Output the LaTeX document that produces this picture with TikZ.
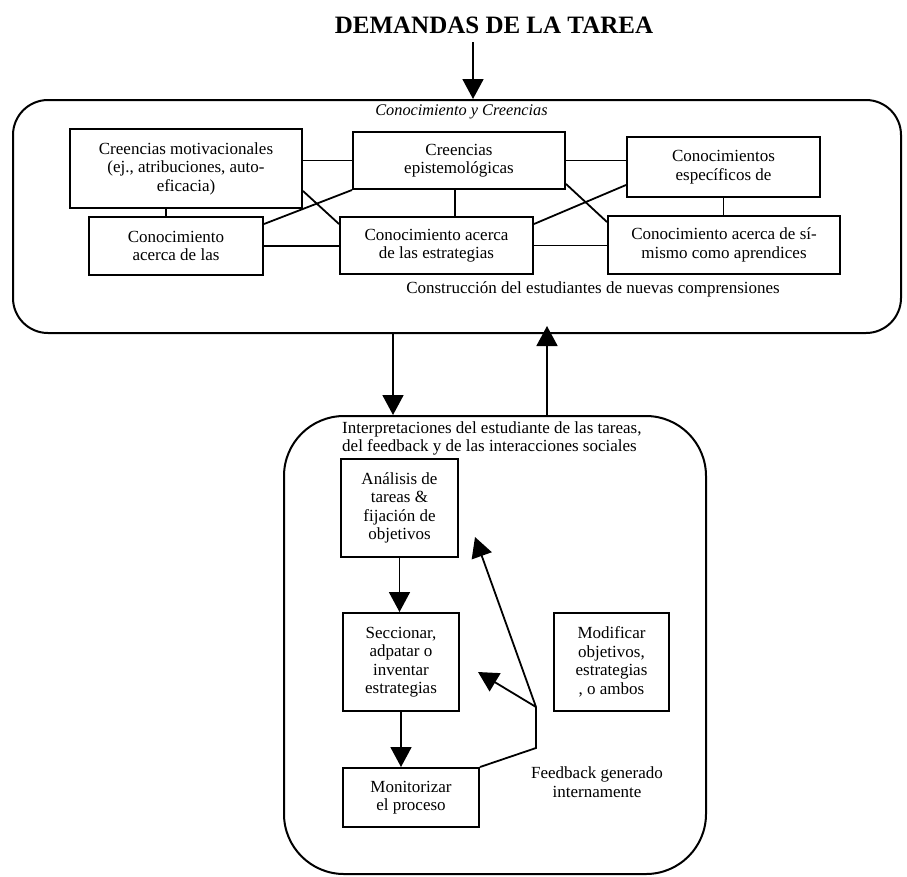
\documentclass[tikz,border=0pt]{standalone}
\usepackage{fontspec}
\setmainfont{Liberation Serif}
\usetikzlibrary{arrows.meta}

\begin{document}
\begin{tikzpicture}[x=1pt, y=-1pt,
	marco/.style={draw, line width=2pt, rounded corners=#1},
	caja/.style={draw, line width=2pt, align=center, inner sep=0pt, font=\fontsize{17}{18.5}\selectfont},
	texto/.style={inner sep=0pt, font=\fontsize{17}{18.5}\selectfont},
	enlace/.style={line width=1.8pt},
	flecha/.style={line width=1.8pt, -{Triangle[length=20pt,width=21pt]}}]
	\useasboundingbox (0,0) rectangle (907,876);

	\node[anchor=base, inner sep=0pt, font=\bfseries\fontsize{25}{30}\selectfont] (titulo) at (494,33) {DEMANDAS DE LA TAREA};

	\node[marco=35pt, minimum width=888pt, minimum height=233pt] (conoc) at (457,216.5) {};
	\node[marco=60pt, minimum width=422pt, minimum height=458pt] (proc) at (495,645) {};

	\coordinate (cae) at (473,42);
	\draw[flecha] (cae) -- (cae |- conoc.north);

	\node[anchor=base, inner sep=0pt, font=\itshape\fontsize{16.3}{18}\selectfont] (titcon) at (461.5,115) {Conocimiento y Creencias};

	\node[caja, minimum width=232pt, minimum height=79pt] (motiv) at (186,168.5) {Creencias motivacionales\\(ej., atribuciones, auto-\\eficacia)};
	\node[caja, minimum width=212pt, minimum height=57pt] (epist) at (459,160.5) {Creencias\\epistemológicas};
	\node[caja, minimum width=193pt, minimum height=60pt] (espec) at (723.5,167) {Conocimientos\\específicos de};
	\node[caja, minimum width=174pt, minimum height=58pt] (las) at (176,246) {Conocimiento\\acerca de las};
	\node[caja, minimum width=193pt, minimum height=57pt] (estrat) at (436.5,245.5) {Conocimiento acerca\\de las estrategias};
	\node[caja, minimum width=232pt, minimum height=58pt] (simismo) at (724,245) {Conocimiento acerca de sí-\\mismo como aprendices};
	\node[texto, anchor=base] (constr) at (593,293) {Construcción del estudiantes de nuevas comprensiones};

	\draw[enlace] (epist.west -| motiv.east) -- (epist.west);
	\draw[enlace] ([xshift=-10pt]las.north) -- ([xshift=-10pt]las.north |- motiv.south);
	\draw[enlace] ([yshift=18pt]motiv.south east) -- ([yshift=-8pt]estrat.north west);
	\draw[enlace] ([yshift=-8pt]las.north east) -- (epist.south west);
	\draw[enlace] (las.east) -- (las.east -| estrat.west);
	\draw[enlace] ([xshift=-4pt]epist.south) -- ([xshift=-4pt]epist.south |- estrat.north);
	\draw[enlace] (epist.east) -- (epist.east -| espec.west);
	\draw[enlace] ([yshift=6pt]epist.south east) -- ([yshift=-7pt]simismo.north west);
	\draw[enlace] ([yshift=-8pt]estrat.north east) -- ([yshift=13pt]espec.south west);
	\draw[enlace] (estrat.east) -- (estrat.east -| simismo.west);
	\draw[enlace] (espec.south) -- (espec.south |- simismo.north);

	\coordinate (baja) at (393,333);
	\coordinate (sube) at (547,416);
	\draw[flecha] (baja) -- (baja |- proc.north);
	\draw[flecha] (sube) -- ([yshift=8pt]sube |- conoc.south);

	\node[texto, anchor=north west, align=left] (interp) at (342,421) {Interpretaciones del estudiante de las tareas,\\del feedback y de las interacciones sociales};

	\node[caja, minimum width=117pt, minimum height=98pt] (ana) at (399.5,508) {Análisis de\\tareas \&\\fijación de\\objetivos};
	\node[caja, minimum width=116pt, minimum height=98pt] (sec) at (401,662) {Seccionar,\\adpatar o\\inventar\\estrategias};
	\node[caja, minimum width=115pt, minimum height=98pt] (modif) at (611.5,662) {Modificar\\objetivos,\\estrategias\\, o ambos};
	\node[caja, minimum width=136pt, minimum height=59pt] (mon) at (411,797.5) {Monitorizar\\el proceso};
	\node[texto, align=center] (fbtexto) at (597,782) {Feedback generado\\internamente};

	\draw[flecha] (ana.south) -- (ana.south |- sec.north);
	\draw[flecha] (sec.south) -- (sec.south |- mon.north);

	\coordinate (fbbajo) at (536,748);
	\coordinate (fb) at (536,707);
	\coordinate (puntaA) at (475,537);
	\coordinate (puntaS) at (478,672);
	\draw[enlace] (mon.north east) -- (fbbajo) -- (fb);
	\draw[flecha] (fb) -- (puntaA);
	\draw[flecha] (fb) -- (puntaS);
\end{tikzpicture}
\end{document}
